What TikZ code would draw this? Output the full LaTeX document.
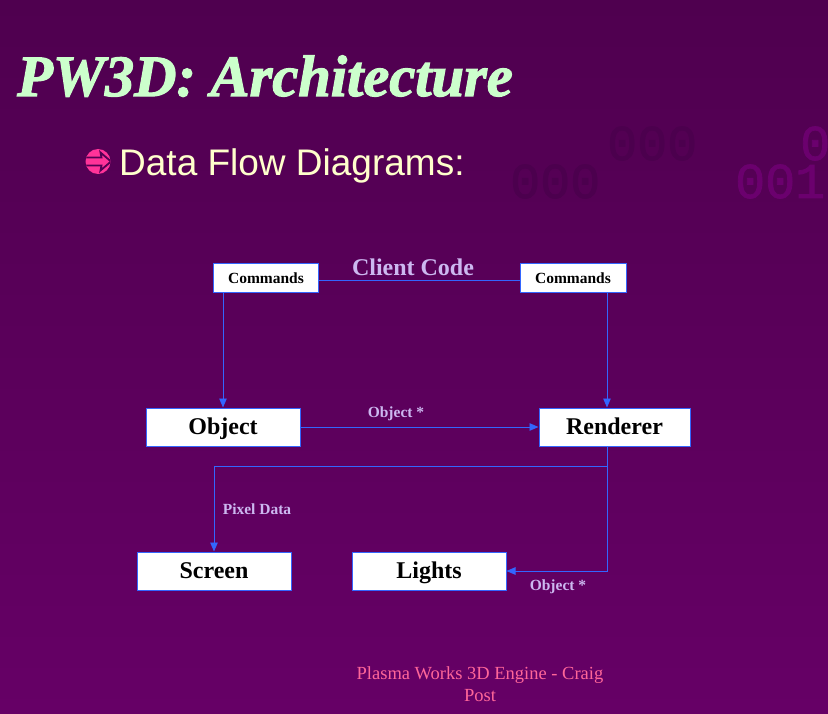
\documentclass[tikz,border=0pt]{standalone}
\usepackage{fontspec}
\setmainfont{Liberation Serif}
\newfontfamily\arialfont{Liberation Sans}
\newfontfamily\monofont{Liberation Mono}[FakeBold=1.5]
\newfontfamily\titlefont{Liberation Serif}[UprightFont=* Bold Italic, FakeBold=2]
\usetikzlibrary{arrows.meta}
\definecolor{bgtop}{HTML}{4F004F}
\definecolor{bgbot}{HTML}{660066}
\definecolor{bulletbg}{HTML}{540054}
\definecolor{titlegreen}{HTML}{CCFFCC}
\definecolor{bullettext}{HTML}{FFFFCC}
\definecolor{bulletpink}{HTML}{FF3399}
\definecolor{linkblue}{HTML}{3366FF}
\definecolor{lavender}{HTML}{CCB8F0}
\definecolor{footpink}{HTML}{FF6699}
\definecolor{digdark}{HTML}{4C004E}
\definecolor{diglight}{HTML}{6B006E}
\tikzset{
  box/.style={draw=linkblue, line width=1pt, fill=white, inner sep=0pt, text=black, text depth=0pt},
  cmdbox/.style={box, minimum width=105pt, minimum height=29pt, text height=10.2pt, font=\bfseries\fontsize{15.5}{17}\selectfont},
  bigbox/.style={box, minimum width=154pt, minimum height=38pt, text height=15.8pt, font=\bfseries\fontsize{24}{26}\selectfont},
  link/.style={draw=linkblue, line width=0.9pt},
  arr/.style={link, -{Triangle[length=9pt,width=7.5pt]}},
  lbl/.style={text=lavender, font=\bfseries\fontsize{15.5}{17}\selectfont, inner sep=0pt, text height=10.2pt, text depth=0pt},
  digit/.style={font=\monofont\fontsize{50}{50}\selectfont, anchor=base west, inner sep=0pt}
}
\begin{document}
\begin{tikzpicture}[x=1pt,y=-1pt]
\useasboundingbox (0,0) rectangle (828,714);
\shade[top color=bgtop, bottom color=bgbot] (0,0) rectangle (828,714);
% background digits
\node[digit, text=digdark] (d1) at (607,160) {000};
\node[digit, text=diglight] (d2) at (800,160) {0};
\node[digit, text=digdark] (d3) at (510,198) {000};
\node[digit, text=diglight] (d4) at (735,198) {001};
% title
\node[anchor=base west, inner sep=0pt, text=titlegreen, font=\titlefont\fontsize{58.5}{60}\selectfont] (title) at (17,96) {PW3D: Architecture};
% bullet
\begin{scope}
  \fill[bulletpink] (98,161.5) circle[radius=12.5];
  \clip (98,161.5) circle[radius=12.5];
  \draw[bulletbg, line width=1.8pt, line join=miter]
    (80,157.5) -- (101.5,157.5) -- (100.5,152.5) -- (111,161.5) -- (100.5,170.5) -- (101.5,165.5) -- (80,165.5);
\end{scope}
\node[anchor=base west, inner sep=0pt, text=bullettext, font=\arialfont\fontsize{37}{40}\selectfont] (sub) at (119,176) {Data Flow Diagrams:};
% diagram nodes
\node[cmdbox] (cmdL) at (266,278.5) {Commands};
\node[cmdbox, minimum width=106pt] (cmdR) at (573,278.5) {Commands};
\node[bigbox] (obj) at (223,427) {Object};
\node[bigbox, minimum width=151pt] (rend) at (614.5,427) {Renderer};
\node[bigbox] (screen) at (214,571) {Screen};
\node[bigbox] (lights) at (429,571) {Lights};
% labels
\node[lbl, text height=15.8pt, font=\bfseries\fontsize{24}{26}\selectfont] (client) at (413,267.5) {Client Code};
\node[lbl] (lab1) at (396,412.5) {Object *};
\node[lbl] (lab2) at (257,509.5) {Pixel Data};
\node[lbl] (lab3) at (558,585.5) {Object *};
% junctions
\coordinate (vR) at (607,466);
\coordinate (vL) at (214,466);
\coordinate (vB) at (607,571);
\coordinate (cR) at (607,293);
% connectors
\draw[link] (cmdL.east |- 0,280) -- (cmdR.west |- 0,280);
\draw[arr] (cmdL.south -| obj.north) -- (obj.north);
\draw[arr] (cR) -- (cR |- rend.north);
\draw[arr] (obj.east) -- (rend.west);
\draw[arr] (vR |- rend.south) -- (vR) -- (vL) -- (screen.north);
\draw[arr] (vR) -- (vB) -- (lights.east);
% footer
\node[align=center, inner sep=0pt, text=footpink, font=\fontsize{18.5}{22}\selectfont, anchor=base] (foot) at (480,701) {Plasma Works 3D Engine - Craig\\Post};
\end{tikzpicture}
\end{document}
